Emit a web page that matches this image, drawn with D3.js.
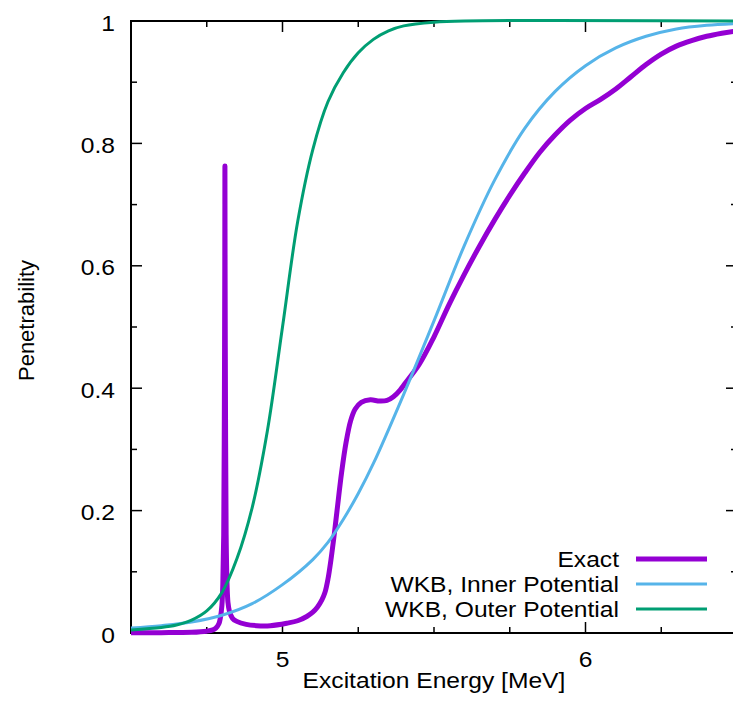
<!DOCTYPE html>
<html>
<head>
<meta charset="utf-8">
<script src="https://cdn.jsdelivr.net/npm/d3@7"></script>
<style>
  html, body { margin: 0; padding: 0; background: #fff; }
  svg { display: block; }
  text { font-family: "Liberation Sans", Arial, Helvetica, sans-serif; fill: #000; }
</style>
</head>
<body>
<svg id="chart" width="733" height="710"></svg>
<script>
// Penetrability vs excitation energy: exact result and two WKB estimates.

const xDomain = [4.5, 6.5];
const yDomain = [0, 1];
const xMajorTicks = [5, 6];
const xMinorTicks = [4.75, 5.25, 5.5, 5.75, 6.25];
const yMajorTicks = [0, 0.2, 0.4, 0.6, 0.8, 1];
const yMinorTicks = [0.1, 0.3, 0.5, 0.7, 0.9];
const yTickLabels = ["0", "0.2", "0.4", "0.6", "0.8", "1"];
const xTickLabels = ["5", "6"];

const seriesNames = ["Exact", "WKB, Inner Potential", "WKB, Outer Potential"];
const seriesColors = ["#9400d3", "#56b4e9", "#009e73"];

// Exact calculation (sharp resonance near 4.81 MeV)
const exactEnergy = [
  4.5, 4.6, 4.7, 4.75, 4.77, 4.78, 4.79, 4.795, 4.8, 4.803, 4.806, 4.808, 4.8095,
  4.81, 4.8105, 4.812, 4.814, 4.817, 4.82, 4.825, 4.835, 4.849, 4.88, 4.915, 4.96,
  5.014, 5.05, 5.08, 5.1, 5.115, 5.13, 5.14, 5.15, 5.16, 5.17, 5.18, 5.195, 5.21,
  5.225, 5.24, 5.26, 5.29, 5.32, 5.345, 5.366, 5.388, 5.4, 5.45, 5.5, 5.55, 5.6,
  5.65, 5.7, 5.75, 5.8, 5.85, 5.9, 5.95, 6.0, 6.05, 6.1, 6.15, 6.2, 6.25, 6.3, 6.35,
  6.4, 6.45, 6.5
];
const exactValue = [
  0.0005, 0.0006, 0.0012, 0.003, 0.005, 0.008, 0.015, 0.025, 0.045, 0.08, 0.16, 0.35, 0.6,
  0.763, 0.6, 0.35, 0.16, 0.08, 0.05, 0.035, 0.024, 0.019, 0.014, 0.012, 0.012,
  0.016, 0.02, 0.027, 0.034, 0.042, 0.054, 0.066, 0.088, 0.12, 0.158, 0.2, 0.262, 0.312,
  0.347, 0.366, 0.377, 0.381, 0.379, 0.38, 0.386, 0.397, 0.405, 0.438, 0.484, 0.537, 0.586,
  0.632, 0.675, 0.715, 0.752, 0.786, 0.814, 0.838, 0.857, 0.872, 0.889, 0.909, 0.929, 0.946, 0.959, 0.968,
  0.975, 0.98, 0.984
];

// WKB with the inner potential
const innerEnergy = [
  4.5, 4.6, 4.7, 4.8, 4.9, 5.0, 5.1, 5.15, 5.2, 5.25, 5.3, 5.4, 5.5, 5.6, 5.7,
  5.8, 5.9, 6.0, 6.1, 6.2, 6.3, 6.4, 6.5
];
const innerValue = [
  0.008, 0.012, 0.018, 0.029, 0.048, 0.079, 0.12, 0.148, 0.185, 0.228, 0.277, 0.39, 0.51, 0.633, 0.74,
  0.825, 0.885, 0.927, 0.956, 0.975, 0.987, 0.993, 0.996
];

// WKB with the outer potential
const outerEnergy = [
  4.5, 4.6, 4.65, 4.7, 4.75, 4.8, 4.85, 4.9, 4.95, 5.0, 5.05, 5.1, 5.15, 5.2, 5.25,
  5.3, 5.35, 5.4, 5.5, 5.6, 6.5
];
const outerValue = [
  0.005, 0.009, 0.013, 0.021, 0.036, 0.066, 0.122, 0.205, 0.33, 0.5, 0.672, 0.79, 0.868, 0.915, 0.948,
  0.97, 0.984, 0.992, 0.998, 1.0, 1.0
];

const plot = { left: 131, right: 737, top: 21, bottom: 633 };
const fontSize = 22;
const stretch = 1.12;   // horizontal text width factor

const svg = d3.select("#chart");
const x = d3.scaleLinear().domain(xDomain).range([plot.left, plot.right]);
const y = d3.scaleLinear().domain(yDomain).range([plot.bottom, plot.top]);

function label(px, py, str, anchor) {
  return svg.append("text")
    .attr("transform", `translate(${px},${py}) scale(${stretch},1)`)
    .attr("text-anchor", anchor).attr("font-size", fontSize).text(str);
}

const frame = svg.append("g");

// Border
frame.append("rect")
  .attr("x", plot.left).attr("y", plot.top)
  .attr("width", plot.right - plot.left).attr("height", plot.bottom - plot.top)
  .attr("fill", "none").attr("stroke", "#000").attr("stroke-width", 2);

// Ticks, mirrored on opposite sides, pointing inward
const tickMajor = 11, tickMinor = 6;
function yTicks(vals, len) {
  vals.forEach(v => {
    frame.append("line").attr("x1", plot.left).attr("x2", plot.left + len)
      .attr("y1", y(v)).attr("y2", y(v)).attr("stroke", "#000").attr("stroke-width", 1.5);
    frame.append("line").attr("x1", plot.right).attr("x2", plot.right - len)
      .attr("y1", y(v)).attr("y2", y(v)).attr("stroke", "#000").attr("stroke-width", 1.5);
  });
}
function xTicks(vals, len) {
  vals.forEach(v => {
    frame.append("line").attr("x1", x(v)).attr("x2", x(v))
      .attr("y1", plot.bottom).attr("y2", plot.bottom - len).attr("stroke", "#000").attr("stroke-width", 1.5);
    frame.append("line").attr("x1", x(v)).attr("x2", x(v))
      .attr("y1", plot.top).attr("y2", plot.top + len).attr("stroke", "#000").attr("stroke-width", 1.5);
  });
}
yTicks(yMajorTicks, tickMajor);
yTicks(yMinorTicks, tickMinor);
xTicks(xMajorTicks, tickMajor);
xTicks(xMinorTicks, tickMinor);

// Tick labels
yMajorTicks.forEach((v, i) => label(115, y(v) + 9.5, yTickLabels[i], "end"));
xMajorTicks.forEach((v, i) => label(x(v), 666.5, xTickLabels[i], "middle"));

// Axis titles
label(434, 687.5, "Excitation Energy [MeV]", "middle");
svg.append("text")
  .attr("transform", "translate(33.5,320.5) rotate(-90)")
  .attr("text-anchor", "middle").attr("font-size", fontSize)
  .text("Penetrability");

// Curves
const series = [
  { energy: exactEnergy, value: exactValue, width: 5 },
  { energy: innerEnergy, value: innerValue, width: 3 },
  { energy: outerEnergy, value: outerValue, width: 3 }
];
const line = d3.line().x(d => x(d[0])).y(d => y(d[1])).curve(d3.curveCatmullRom.alpha(0.5));
series.forEach((s, i) => {
  const pts = s.energy.map((e, k) => [e, s.value[k]]);
  svg.append("path").attr("d", line(pts))
    .attr("fill", "none").attr("stroke", seriesColors[i])
    .attr("stroke-width", s.width).attr("stroke-linejoin", "round");
});

// Legend
const legendRows = [559, 584, 609];
seriesNames.forEach((name, i) => {
  label(619, legendRows[i] + 8, name, "end");
  svg.append("line").attr("x1", 636).attr("x2", 707)
    .attr("y1", legendRows[i]).attr("y2", legendRows[i])
    .attr("stroke", seriesColors[i]).attr("stroke-width", series[i].width);
});
</script>
</body>
</html>
